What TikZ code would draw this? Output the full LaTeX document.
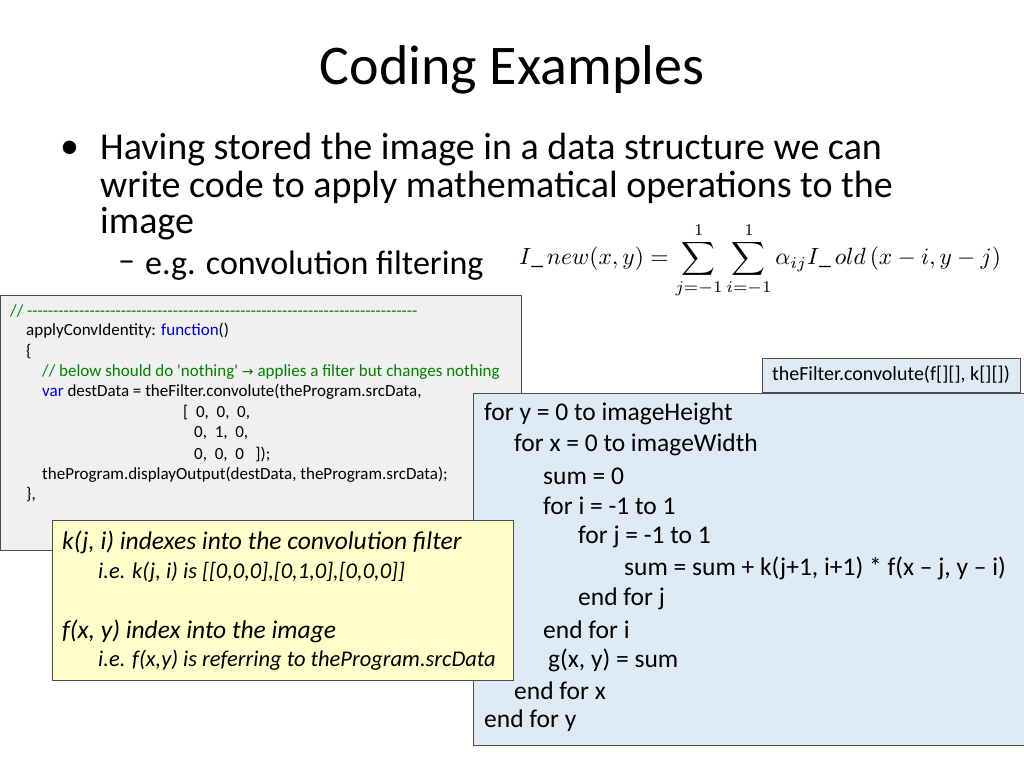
\documentclass[tikz,border=0pt]{standalone}
\usepackage{fontspec}
\setmainfont{Carlito}[Ligatures=TeXOff]
\newfontfamily\sym{DejaVu Sans}
\begin{document}
\begin{tikzpicture}[x=1pt,y=-1pt,
  code/.style={anchor=west,inner sep=0pt,font=\fontsize{17}{19}\selectfont},
  loop/.style={anchor=west,inner sep=0pt,font=\fontsize{25.5}{28}\selectfont},
  note/.style={anchor=west,inner sep=0pt,font=\fontsize{25.5}{28}\selectfont\itshape},
  subnote/.style={anchor=west,inner sep=0pt,font=\fontsize{22.5}{25}\selectfont\itshape},
  body/.style={anchor=west,inner sep=0pt,font=\fontsize{38}{42}\selectfont}]
\definecolor{cgreen}{RGB}{0,128,0}
\definecolor{cblue}{RGB}{0,0,200}
\definecolor{lblue}{RGB}{222,235,247}
\definecolor{lyellow}{RGB}{255,255,204}
\useasboundingbox[fill=white] (0,0) rectangle (1024,768);
\node[anchor=center,font=\fontsize{56}{60}\selectfont] (title) at (512,70) {Coding Examples};
\node[body] (b1) at (60,150) {•};
\node[body] (l1) at (100,150) {Having stored the image in a data structure we can};
\node[body] (l2) at (100,187) {write code to apply mathematical operations to the};
\node[body] (l3) at (100,224) {image};
\node[body,font=\fontsize{34}{38}\selectfont] (d) at (118,266) {–};
\node[body,font=\fontsize{34}{38}\selectfont] (l4) at (145,266) {e.g. convolution filtering};
\node[anchor=center] (f) at (760,260)
 {\scalebox{2.35}{$\displaystyle I\_\,new(x,y)=\sum_{j=-1}^{1}\sum_{i=-1}^{1}\alpha_{ij}I\_\,old\,(x-i,y-j)$}};
% code box
\draw[draw=black!70,fill=black!6] (0,295) rectangle (521,550);
\node[code,text=cgreen] (c1) at (10,311) {// ---------------------------------------------------------------------------};
\node[code] (c2) at (26,331) {applyConvIdentity: \textcolor{cblue}{function}()};
\node[code] (c3) at (26,352) {\{};
\node[code,text=cgreen] (c4) at (42,372) {// below should do 'nothing' {\sym\fontsize{14}{16}\selectfont→} applies a filter but changes nothing};
\node[code] (c5) at (42,392) {\textcolor{cblue}{var} destData = theFilter.convolute(theProgram.srcData,};
\node[code] (c6) at (183,413) {[\ \ 0,\ \ 0,\ \ 0,};
\node[code] (c7) at (194,433) {0,\ \ 1,\ \ 0,};
\node[code] (c8) at (194,454) {0,\ \ 0,\ \ 0\ \ \ ]);};
\node[code] (c9) at (42,475) {theProgram.displayOutput(destData, theProgram.srcData);};
\node[code] (c10) at (26,495) {\},};
% label box
\node[draw=black!70,fill=lblue,anchor=center,minimum width=258,minimum height=34,inner sep=0pt,font=\fontsize{20}{22}\selectfont] (lab) at (891,375) {theFilter.convolute(f[][], k[][])};
% blue box
\draw[draw=black!70,fill=lblue] (473,393) rectangle (1024,745);
\node[loop] (p1) at (484,414) {for y = 0 to imageHeight};
\node[loop] (p2) at (514,445) {for x = 0 to imageWidth};
\node[loop] (p3) at (543,476) {sum = 0};
\node[loop] (p4) at (543,506) {for i = -1 to 1};
\node[loop] (p5) at (578,537) {for j = -1 to 1};
\node[loop] (p6) at (624,568) {sum = sum + k(j+1, i+1) * f(x – j, y – i)};
\node[loop] (p7) at (578,599) {end for j};
\node[loop] (p8) at (543,630) {end for i};
\node[loop] (p9) at (548,660) {g(x, y) = sum};
\node[loop] (p10) at (514,691) {end for x};
\node[loop] (p11) at (484,721) {end for y};
% yellow box
\draw[draw=black!70,fill=lyellow] (52,520) rectangle (513,680);
\node[note] (n1) at (62,542) {k(j, i) indexes into the convolution filter};
\node[subnote] (n2) at (98,572) {i.e. k(j, i) is [[0,0,0],[0,1,0],[0,0,0]]};
\node[note] (n3) at (62,631) {f(x, y) index into the image};
\node[subnote] (n4) at (98,660) {i.e. f(x,y) is referring to theProgram.srcData};
\end{tikzpicture}
\end{document}
